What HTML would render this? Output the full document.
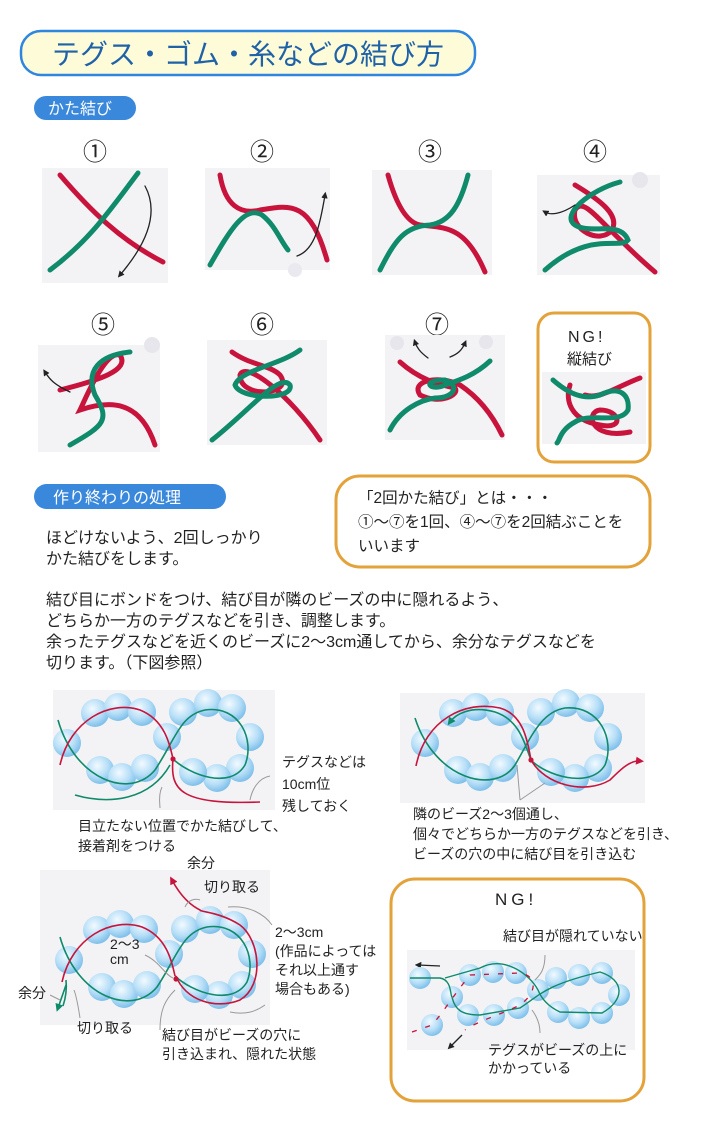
<!DOCTYPE html>
<html><head><meta charset="utf-8"><style>
html,body{margin:0;padding:0;background:#fff;}
svg{display:block;}
text{font-family:"Liberation Sans","Noto Sans CJK JP",sans-serif;fill:#222;}
</style></head><body>
<svg width="720" height="1128" viewBox="0 0 720 1128" xmlns="http://www.w3.org/2000/svg">
<defs>
<radialGradient id="bd" cx="40%" cy="35%" r="65%">
<stop offset="0" stop-color="#f2faff"/><stop offset="0.6" stop-color="#b6def7"/><stop offset="1" stop-color="#7fc0ea"/>
</radialGradient>
<marker id="ah" viewBox="0 0 10 10" refX="5" refY="5" markerWidth="5" markerHeight="5" orient="auto"><path d="M0,0L10,5L0,10z" fill="#222"/></marker>
<marker id="ahr" viewBox="0 0 10 10" refX="5" refY="5" markerWidth="5" markerHeight="5" orient="auto"><path d="M0,0L10,5L0,10z" fill="#c8143c"/></marker>
<marker id="ahg" viewBox="0 0 10 10" refX="5" refY="5" markerWidth="5" markerHeight="5" orient="auto"><path d="M0,0L10,5L0,10z" fill="#0f8a6a"/></marker>
<g id="beads">
<circle cx="67" cy="743" r="14" fill="url(#bd)"/><circle cx="95" cy="713" r="14" fill="url(#bd)"/><circle cx="118" cy="707" r="14" fill="url(#bd)"/><circle cx="142" cy="712" r="14" fill="url(#bd)"/><circle cx="167" cy="737" r="14" fill="url(#bd)"/><circle cx="100" cy="770" r="14" fill="url(#bd)"/><circle cx="122" cy="777" r="14" fill="url(#bd)"/><circle cx="145" cy="768" r="14" fill="url(#bd)"/>
<circle cx="183" cy="712" r="14" fill="url(#bd)"/><circle cx="208" cy="703" r="14" fill="url(#bd)"/><circle cx="232" cy="708" r="14" fill="url(#bd)"/><circle cx="250" cy="737" r="14" fill="url(#bd)"/><circle cx="240" cy="768" r="14" fill="url(#bd)"/><circle cx="217" cy="778" r="14" fill="url(#bd)"/><circle cx="193" cy="772" r="14" fill="url(#bd)"/>
</g>
<g id="eight">
<path d="M58,720 C75,780 130,800 155,770 C175,740 180,715 205,710 C240,705 255,740 245,765 C230,790 190,775 173,759" fill="none" stroke="#0f8a6a" stroke-width="1.6"/>
<path d="M60,765 C70,720 110,700 140,710 C165,720 170,745 173,759" fill="none" stroke="#c8143c" stroke-width="1.6"/>
</g>
</defs>

<rect x="21" y="31" width="454" height="44" rx="20" fill="#fdfbd8" stroke="#2f86de" stroke-width="2.5"/>
<text x="52" y="64" font-size="28" style="fill:#1f62a8">テグス・ゴム・糸などの結び方</text>

<rect x="34" y="96" width="102" height="24" rx="12" fill="#3a88db"/>
<text x="48" y="114" font-size="16" style="fill:#fff">かた結び</text>

<g font-size="24">
<text x="83" y="160">①</text><text x="250" y="160">②</text><text x="418" y="160">③</text><text x="583" y="160">④</text>
<text x="91" y="333">⑤</text><text x="250" y="333">⑥</text><text x="425" y="333">⑦</text>
</g>

<g fill="#f3f3f6">
<rect x="42" y="168" width="126" height="115"/><rect x="205" y="168" width="125" height="102"/>
<rect x="372" y="170" width="120" height="105"/><rect x="537" y="175" width="123" height="100"/>
<rect x="38" y="345" width="122" height="107"/><rect x="207" y="340" width="120" height="105"/>
<rect x="385" y="335" width="120" height="105"/>
</g>
<g fill="none" stroke-linecap="round" stroke-width="5">
<path d="M60,175 C90,210 120,240 163,262" stroke="#c8143c"/>
<path d="M138,173 C110,210 90,240 50,270" stroke="#0f8a6a"/>
<path d="M145,186 C158,210 150,240 120,275" stroke="#222" stroke-width="1.3" marker-end="url(#ah)"/>
<path d="M220,175 C225,205 240,215 260,210 C290,205 310,200 327,260" stroke="#c8143c"/>
<path d="M210,265 C230,230 245,205 262,215 C275,225 280,240 288,250" stroke="#0f8a6a"/>
<path d="M297,256 C315,250 320,225 325,195" stroke="#222" stroke-width="1.3" marker-end="url(#ah)"/>
<circle cx="295" cy="270" r="7" fill="#e9e9ef" stroke="none"/>
<path d="M388,175 C395,200 405,222 420,225 C445,228 465,225 485,272" stroke="#c8143c"/>
<path d="M468,175 C460,205 450,222 430,225 C405,226 395,240 380,270" stroke="#0f8a6a"/>
<path d="M575,185 C600,200 620,215 612,230 C600,245 570,230 575,210 C585,195 600,225 655,272" stroke="#c8143c"/>
<path d="M620,182 C590,190 560,215 575,225 C590,235 620,220 628,240 C620,250 590,230 545,270" stroke="#0f8a6a"/>
<path d="M575,205 C560,215 550,215 545,212" stroke="#222" stroke-width="1.3" marker-end="url(#ah)"/>
<circle cx="640" cy="180" r="8" fill="#e6e6ec" stroke="none"/>
<path d="M60,390 C100,380 130,370 120,355 C105,350 85,400 80,410 C110,400 140,400 155,445" stroke="#c8143c"/>
<path d="M130,352 C100,355 85,370 95,395 C110,420 105,425 70,445" stroke="#0f8a6a"/>
<path d="M70,392 C55,385 50,380 45,372" stroke="#222" stroke-width="1.3" marker-end="url(#ah)"/>
<circle cx="152" cy="345" r="8" fill="#e6e6ec" stroke="none"/>
<path d="M232,352 C250,365 270,365 280,375 C295,395 240,400 240,375 C245,360 290,395 320,440" stroke="#c8143c"/>
<path d="M300,350 C280,365 240,370 235,385 C240,400 295,400 290,385 C280,372 250,410 212,440" stroke="#0f8a6a"/>
<path d="M400,362 C420,380 440,385 455,388 C460,395 440,405 420,395 C410,380 440,375 460,385 C475,395 490,410 502,435" stroke="#c8143c"/>
<path d="M490,361 C475,375 460,380 445,385 C430,392 420,380 445,380 C460,385 455,398 435,398 C420,400 400,410 390,430" stroke="#0f8a6a"/>
<path d="M428,358 C420,352 417,348 415,342" stroke="#222" stroke-width="1.3" marker-end="url(#ah)"/>
<path d="M450,357 C458,354 462,350 465,343" stroke="#222" stroke-width="1.3" marker-end="url(#ah)"/>
</g>
<circle cx="397" cy="343" r="7" fill="#e6e6ec"/><circle cx="486" cy="342" r="7" fill="#e6e6ec"/>

<rect x="538" y="313" width="112" height="149" rx="16" fill="#fff" stroke="#e3a23a" stroke-width="3"/>
<rect x="542" y="372" width="104" height="72" fill="#f3f3f6"/>
<text x="568" y="342" font-size="16" letter-spacing="3">NG!</text>
<text x="567" y="364" font-size="15">縦結び</text>
<g fill="none" stroke-linecap="round" stroke-width="5">
<path d="M570,385 C565,400 570,420 600,425 C625,430 620,410 600,410 C585,412 590,440 630,432" stroke="#c8143c"/>
<path d="M640,378 C620,385 600,400 585,395" stroke="#c8143c"/>
<path d="M553,380 C570,395 585,400 600,395 C620,385 630,395 628,410 C620,425 590,412 575,422 C560,430 560,440 557,443" stroke="#0f8a6a"/>
</g>

<rect x="34" y="484" width="192" height="25" rx="12.5" fill="#3a88db"/>
<text x="53" y="503" font-size="16" style="fill:#fff">作り終わりの処理</text>

<g font-size="16">
<text x="46" y="543">ほどけないよう、2回しっかり</text>
<text x="46" y="564">かた結びをします。</text>
<text x="46" y="605">結び目にボンドをつけ、結び目が隣のビーズの中に隠れるよう、</text>
<text x="46" y="626">どちらか一方のテグスなどを引き、調整します。</text>
<text x="46" y="647">余ったテグスなどを近くのビーズに2〜3cm通してから、余分なテグスなどを</text>
<text x="46" y="668">切ります。（下図参照）</text>
</g>
<rect x="336" y="476" width="314" height="91" rx="24" fill="#fff" stroke="#e3a23a" stroke-width="3"/>
<g font-size="15.5">
<text x="358" y="503">「2回かた結び」とは・・・</text>
<text x="358" y="527">①〜⑦を1回、④〜⑦を2回結ぶことを</text>
<text x="358" y="551">いいます</text>
</g>

<rect x="53" y="690" width="222" height="120" fill="#f3f3f5"/>
<use href="#beads"/><use href="#eight"/>
<path d="M75,795 C110,805 150,800 170,765" fill="none" stroke="#0f8a6a" stroke-width="1.6"/>
<path d="M173,759 C170,790 180,805 260,802" fill="none" stroke="#c8143c" stroke-width="1.6"/>
<circle cx="173" cy="759" r="2.6" fill="#c8143c"/>
<path d="M162,787 C158,795 160,805 160,808" fill="none" stroke="#999" stroke-width="1"/>
<path d="M250,800 C252,790 258,778 270,776" fill="none" stroke="#999" stroke-width="1"/>
<g font-size="14">
<text x="282" y="767">テグスなどは</text><text x="282" y="789">10cm位</text><text x="282" y="811">残しておく</text>
<text x="78" y="831">目立たない位置でかた結びして、</text><text x="78" y="851">接着剤をつける</text>
</g>

<rect x="400" y="693" width="245" height="110" fill="#f3f3f5"/>
<use href="#beads" transform="translate(358,0)"/>
<path d="M415,718 C435,780 495,795 515,765 C530,740 540,712 565,708 C600,705 615,740 605,765 C590,790 545,775 531,760 C525,745 520,720 495,712 C470,705 455,715 450,722" fill="none" stroke="#0f8a6a" stroke-width="1.6" marker-end="url(#ahg)"/>
<path d="M416,766 C425,720 465,700 500,708 C525,715 528,745 531,760 C545,785 585,795 610,780 C620,770 630,760 640,761" fill="none" stroke="#c8143c" stroke-width="1.6" marker-end="url(#ahr)"/>
<circle cx="531" cy="760" r="2.6" fill="#c8143c"/>
<path d="M520,800 L517,765 M520,800 L545,783" fill="none" stroke="#999" stroke-width="1"/>
<g font-size="14">
<text x="413" y="819">隣のビーズ2〜3個通し、</text><text x="413" y="839">個々でどちらか一方のテグスなどを引き、</text><text x="413" y="859">ビーズの穴の中に結び目を引き込む</text>
</g>

<rect x="40" y="870" width="230" height="155" fill="#f3f3f5"/>
<use href="#beads" transform="translate(2,217)"/>
<use href="#eight" transform="translate(2,217)"/>
<path d="M176,976 C185,1000 215,1010 240,1000 C265,985 260,940 240,925 C220,912 200,912 200,910 C190,905 180,895 172,880" fill="none" stroke="#c8143c" stroke-width="1.6" marker-end="url(#ahr)"/>
<path d="M63,1006 C65,1000 67,990 66,980" fill="none" stroke="#0f8a6a" stroke-width="1.6"/>
<path d="M66,985 L58,1008" fill="none" stroke="#0f8a6a" stroke-width="1.6" marker-end="url(#ahg)"/>
<circle cx="176" cy="979" r="2.6" fill="#c8143c"/>
<g stroke="#999" stroke-width="1" fill="none">
<path d="M185,907 C188,900 195,898 200,900"/><path d="M228,907 C250,905 265,915 272,925"/>
<path d="M160,1030 C160,1010 165,1000 175,990"/><path d="M80,1018 C78,1005 76,995 74,990"/>
<path d="M50,995 L60,1000"/><path d="M145,955 C160,962 165,975 173,978"/>
<path d="M230,1012 C245,1015 255,1012 265,1005"/>
</g>
<g font-size="14">
<text x="187" y="868">余分</text><text x="204" y="892">切り取る</text>
<text x="275" y="937">2〜3cm</text><text x="275" y="956">(作品によっては</text><text x="275" y="975">それ以上通す</text><text x="275" y="994">場合もある)</text>
<text x="110" y="949">2〜3</text><text x="110" y="964">cm</text>
<text x="18" y="998">余分</text><text x="77" y="1033">切り取る</text>
<text x="162" y="1040">結び目がビーズの穴に</text><text x="162" y="1059">引き込まれ、隠れた状態</text>
</g>

<rect x="391" y="879" width="253" height="222" rx="24" fill="#fff" stroke="#e3a23a" stroke-width="3"/>
<text x="495" y="905" font-size="17" letter-spacing="4">NG!</text>
<text x="503" y="941" font-size="14">結び目が隠れていない</text>
<rect x="407" y="950" width="228" height="100" fill="#f3f3f5"/>
<path d="M440,966 L418,965" stroke="#222" stroke-width="1.3" marker-end="url(#ah)"/>
<path d="M462,1035 L450,1047" stroke="#222" stroke-width="1.3" marker-end="url(#ah)"/>
<g fill="url(#bd)">
<circle cx="420" cy="978" r="11"/><circle cx="452" cy="997" r="11"/><circle cx="432" cy="1025" r="11"/>
<circle cx="470" cy="975" r="11"/><circle cx="493" cy="972" r="11"/><circle cx="516" cy="973" r="11"/>
<circle cx="468" cy="1015" r="11"/><circle cx="494" cy="1015" r="11"/><circle cx="518" cy="1008" r="11"/>
<circle cx="538" cy="990" r="11"/><circle cx="556" cy="978" r="11"/><circle cx="579" cy="975" r="11"/><circle cx="602" cy="973" r="11"/>
<circle cx="619" cy="995" r="11"/><circle cx="602" cy="1013" r="11"/><circle cx="579" cy="1018" r="11"/><circle cx="558" cy="1012" r="11"/>
</g>
<path d="M410,978 L440,978 C452,980 450,995 452,997 C455,1010 462,1015 480,1015 L520,1008 C540,995 545,985 600,972 C625,980 625,1000 602,1013 L560,1012 C545,1005 540,995 538,990 C530,975 505,955 480,968 L445,978" fill="none" stroke="#0f8a6a" stroke-width="1.4"/>
<path d="M412,1032 L432,1025 C445,1010 450,1000 470,975 L520,973 C535,975 540,990 520,1005 C500,1015 480,1020 465,1030" fill="none" stroke="#c8143c" stroke-width="1.3" stroke-dasharray="5 9"/>
<path d="M545,955 C545,970 540,975 535,980 M532,1010 C538,1018 540,1025 540,1033" fill="none" stroke="#999" stroke-width="1"/>
<text x="488" y="1055" font-size="14">テグスがビーズの上に</text>
<text x="488" y="1073" font-size="14">かかっている</text>
</svg>
</body></html>
